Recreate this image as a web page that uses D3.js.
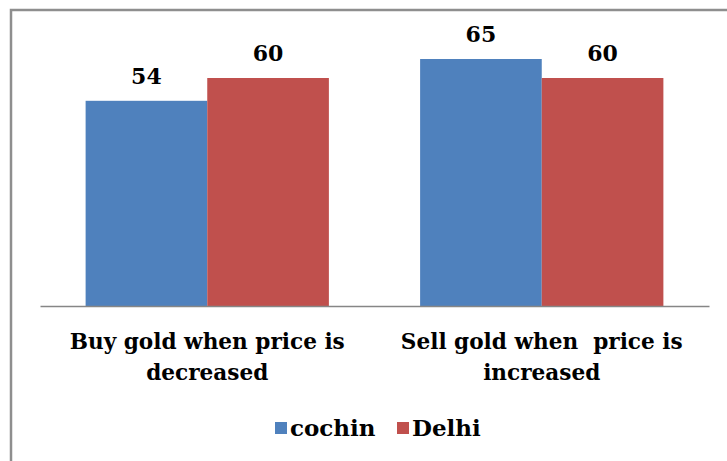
<!DOCTYPE html>
<html>
<head>
<meta charset="utf-8">
<script src="https://cdnjs.cloudflare.com/ajax/libs/d3/7.8.5/d3.min.js"></script>
<style>
  body { margin: 0; background: #fff; }
  svg { display: block; }
</style>
</head>
<body>
<div class="chart"></div>
<script>
var svgWidth = 727;
var svgHeight = 461;

// chart data
var categories = ["Buy gold when price is decreased", "Sell gold when  price is increased"];
var categoryLines = [["Buy gold when price is", "decreased"], ["Sell gold when  price is", "increased"]];
var seriesNames = ["cochin", "Delhi"];
var cochinValues = [54, 65];
var delhiValues = [60, 60];
var colors = ["#4F81BD", "#C0504D"];

var margin = { top: 40, right: 18, bottom: 155, left: 40 };
var width = svgWidth - margin.left - margin.right;
var height = svgHeight - margin.top - margin.bottom;

var serifFont = "'DejaVu Serif', 'Liberation Serif', serif";

var svg = d3.select(".chart")
  .append("svg")
  .attr("width", svgWidth)
  .attr("height", svgHeight);

// outer frame (only top and left edges visible)
svg.append("path")
  .attr("d", "M11,461 V10 H727")
  .attr("fill", "none")
  .attr("stroke", "#8e8e8e")
  .attr("stroke-width", 2.5);

var g = svg.append("g")
  .attr("transform", `translate(${margin.left}, ${margin.top})`);

var x0 = d3.scaleBand()
  .domain(categories)
  .range([0, width]);

// gap width 75% of a bar
var x1 = d3.scaleBand()
  .domain(seriesNames)
  .range([0, x0.bandwidth() * 2 / 2.75]);
var groupOffset = (x0.bandwidth() - x1.range()[1]) / 2;

var y = d3.scaleLinear()
  .domain([0, 70])
  .range([height, 0]);

var rows = categories.map((c, i) => ({
  cat: c,
  vals: [
    { name: seriesNames[0], value: cochinValues[i], color: colors[0] },
    { name: seriesNames[1], value: delhiValues[i], color: colors[1] }
  ]
}));

var groups = g.selectAll(".grp")
  .data(rows)
  .enter().append("g")
  .attr("class", "grp")
  .attr("transform", d => `translate(${x0(d.cat) + groupOffset}, 0)`);

groups.selectAll("rect")
  .data(d => d.vals)
  .enter().append("rect")
  .attr("x", d => x1(d.name))
  .attr("y", d => y(d.value))
  .attr("width", x1.bandwidth())
  .attr("height", d => height - y(d.value))
  .attr("fill", d => d.color);

groups.selectAll(".val")
  .data(d => d.vals)
  .enter().append("text")
  .attr("class", "val")
  .attr("x", d => x1(d.name) + x1.bandwidth() / 2)
  .attr("y", d => y(d.value) - 17)
  .attr("text-anchor", "middle")
  .style("font-family", serifFont)
  .style("font-weight", "bold")
  .style("font-size", "22px")
  .attr("fill", "#000")
  .text(d => d.value);

// x axis
var xAxis = g.append("g")
  .attr("transform", `translate(0, ${height})`)
  .call(d3.axisBottom(x0).tickSize(0).tickFormat(""));
xAxis.select(".domain")
  .attr("stroke", "#868686")
  .attr("stroke-width", 1.5);

// category labels on two lines
categories.forEach(function(c, i) {
  var t = g.append("text")
    .attr("x", x0(c) + x0.bandwidth() / 2)
    .attr("y", height + 43)
    .attr("text-anchor", "middle")
    .style("font-family", serifFont)
    .style("font-weight", "bold")
    .style("font-size", "21.6px")
    .attr("fill", "#000");
  categoryLines[i].forEach(function(line, j) {
    t.append("tspan")
      .attr("x", x0(c) + x0.bandwidth() / 2)
      .attr("dy", j === 0 ? 0 : 31)
      .style("white-space", "pre")
      .text(line);
  });
});

// legend
var legend = svg.append("g")
  .attr("transform", "translate(275, 428)");
var legendX = [0, 122];
seriesNames.forEach(function(name, i) {
  legend.append("rect")
    .attr("x", legendX[i])
    .attr("y", -6)
    .attr("width", 12)
    .attr("height", 12)
    .attr("fill", colors[i]);
  legend.append("text")
    .attr("x", legendX[i] + 15)
    .attr("y", 8)
    .style("font-family", serifFont)
    .style("font-weight", "bold")
    .style("font-size", "23px")
    .attr("fill", "#000")
    .text(name);
});
</script>
</body>
</html>
